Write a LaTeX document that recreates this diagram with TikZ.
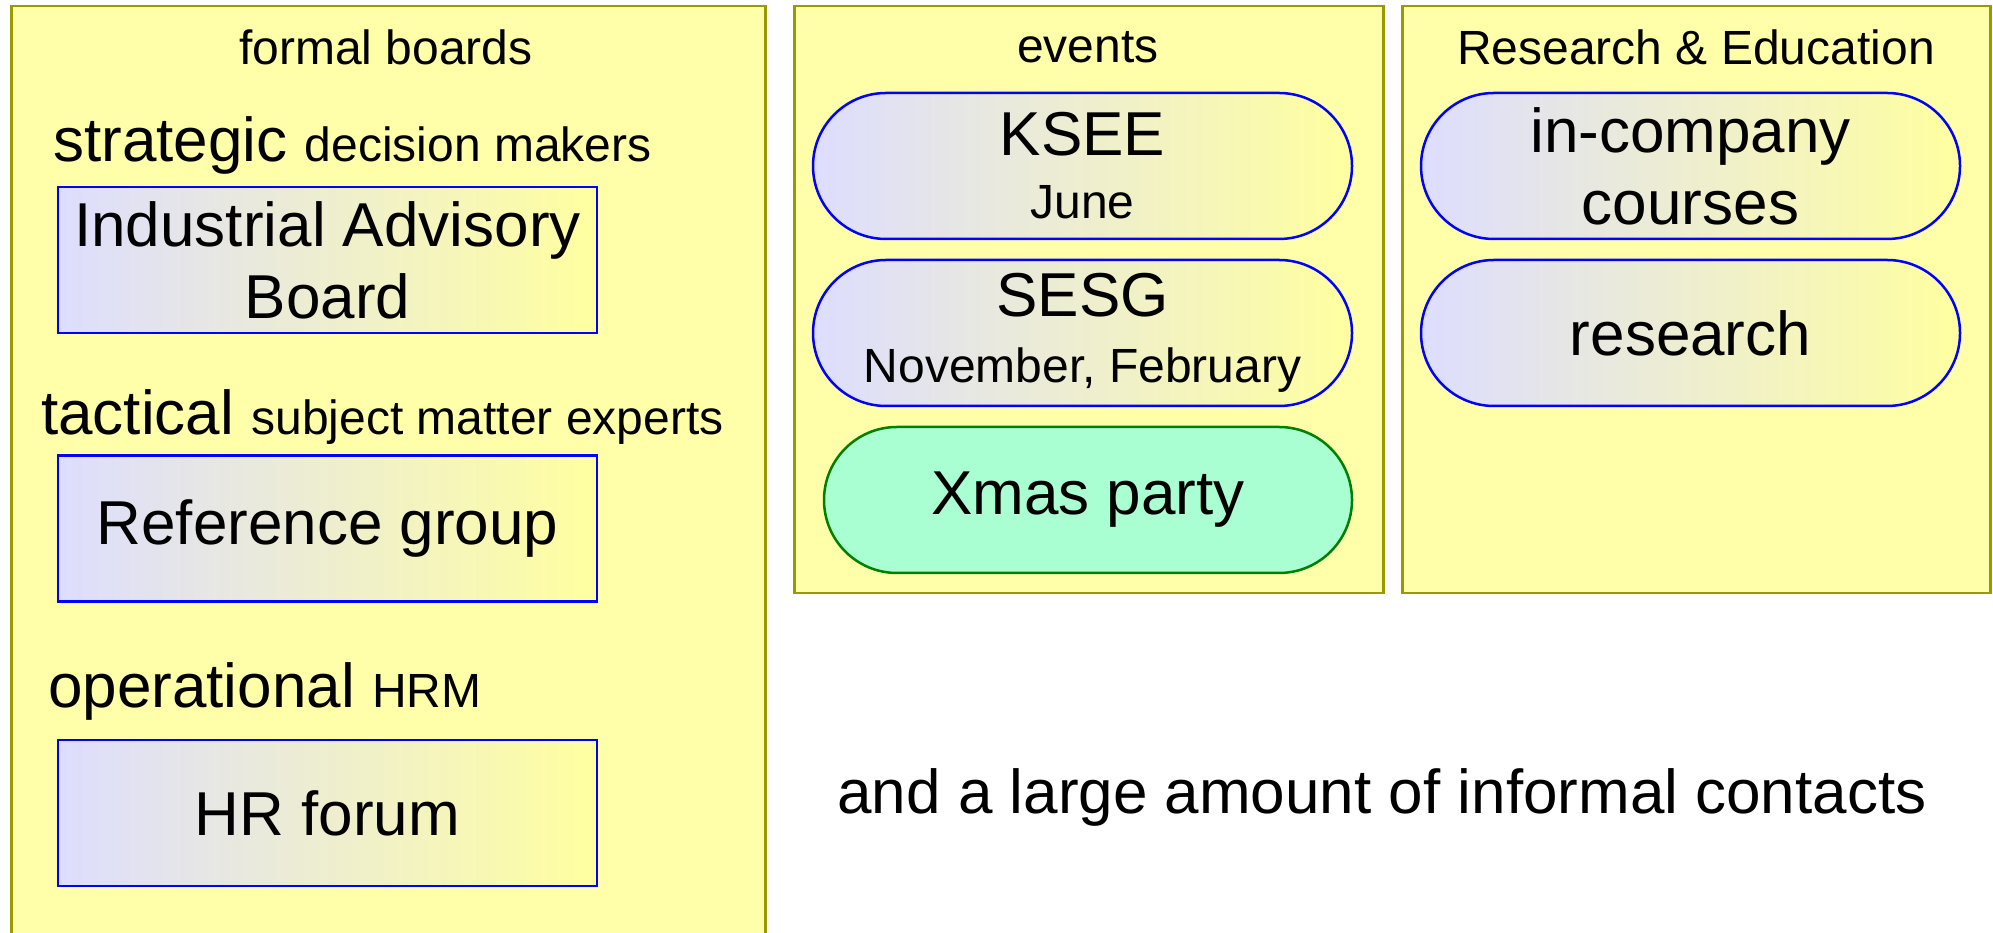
\documentclass[tikz,border=0pt]{standalone}
\usepackage{fontspec}
\setmainfont{Liberation Sans}
\usetikzlibrary{positioning,shapes.misc}
\definecolor{panelfill}{RGB}{255,255,170}
\definecolor{panelline}{RGB}{153,153,0}
\definecolor{lavender}{RGB}{221,221,255}
\definecolor{midgray}{RGB}{230,230,230}
\definecolor{paleyellow}{RGB}{255,255,160}
\definecolor{mint}{RGB}{170,255,210}
\definecolor{partygreen}{RGB}{0,128,0}
\newcommand{\largetxt}{\fontsize{62}{61}\selectfont}
\newcommand{\smalltxt}{\fontsize{48}{58}\selectfont}
\tikzset{
  panel/.style={draw=panelline,fill=panelfill,line width=2.5pt,anchor=north west,inner sep=0pt},
  paneltitle/.style={font=\smalltxt,inner sep=0pt},
  level/.style={anchor=west,inner sep=0pt,font=\largetxt},
  item/.style={line width=2.5pt,minimum width=539pt,minimum height=146pt,inner sep=0pt,
    align=center,font=\fontsize{62}{72}\selectfont},
  board/.style={item,draw=blue,left color=lavender,middle color=midgray,right color=paleyellow},
  meeting/.style={board,rounded rectangle},
  party/.style={item,rounded rectangle,draw=partygreen,fill=mint,minimum width=528pt}
}
\begin{document}
\begin{tikzpicture}[x=1pt,y=1pt]
  \useasboundingbox (0,0) rectangle (1993,933);
  \clip (0,0) rectangle (1993,933);
  % panels
  \node[panel,minimum width=754pt,minimum height=960pt] (formal) at (10,928) {};
  \node[panel,minimum width=589pt,minimum height=587pt] (events) at (793,928) {};
  \node[panel,minimum width=588pt,minimum height=587pt] (resed) at (1401,928) {};
  \node[paneltitle] (formaltitle) at (386,886) {formal boards};
  \node[paneltitle] (eventstitle) at (1088,886) {events};
  \node[paneltitle] (resedtitle) at (1696,886) {Research \& Education};
  % formal boards
  \node[level] (strategic) at (53,788) {strategic {\smalltxt decision makers}};
  \node[board] (iab) at (327.5,673) {Industrial Advisory\\Board};
  \node[level] (tactical) at (41,516) {tactical {\smalltxt subject matter experts}};
  \node[board] (refgroup) at (327.5,404.5) {Reference group};
  \node[level] (operational) at (48,242) {operational {\smalltxt HRM}};
  \node[board] (hrforum) at (327.5,120) {HR forum};
  % events
  \node[meeting,font=\largetxt] (ksee) at (1082.5,767) {KSEE\\[2pt]{\smalltxt June}};
  \node[meeting,font=\largetxt] (sesg) at (1082.5,600) {SESG\\[5pt]{\smalltxt November, February}};
  \node[party] (xmas) at (1088,433) {Xmas party};
  % research and education
  \node[meeting] (courses) at (1690.5,767) {in-company\\courses};
  \node[meeting] (research) at (1690.5,600) {research};
  \node[font=\largetxt,inner sep=0pt] (informal) at (1382,136) {and a large amount of informal contacts};
\end{tikzpicture}
\end{document}
